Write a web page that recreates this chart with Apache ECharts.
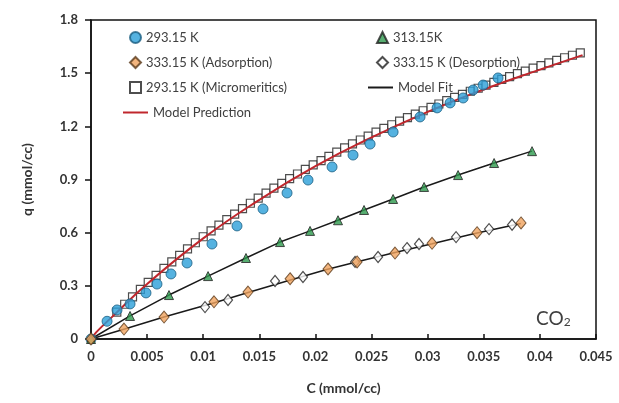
<!DOCTYPE html>
<html><head><meta charset="utf-8">
<script src="https://cdn.jsdelivr.net/npm/echarts@6/dist/echarts.min.js"></script>
<style>html,body{margin:0;padding:0;background:#fff}#c{width:619px;height:403px}</style>
</head><body><div id="c"></div>
<script>
// 293.15 K (blue circles)
const c293 = [0, 0.00143, 0.00232, 0.00348, 0.0049, 0.00588, 0.00713, 0.00856, 0.01078, 0.01301, 0.01533, 0.01747, 0.01934, 0.02148, 0.02335, 0.02487, 0.02692, 0.02932, 0.03084, 0.0320, 0.03316, 0.03405, 0.03494, 0.03627];
const q293 = [0, 0.100, 0.164, 0.198, 0.260, 0.310, 0.367, 0.429, 0.536, 0.638, 0.734, 0.824, 0.897, 0.971, 1.038, 1.100, 1.168, 1.253, 1.304, 1.332, 1.360, 1.405, 1.433, 1.473];
// 313.15K (green triangles)
const c313 = [0, 0.00348, 0.00695, 0.01043, 0.01381, 0.01684, 0.01952, 0.02201, 0.02433, 0.02692, 0.02968, 0.03271, 0.03592, 0.0393];
const q313 = [0, 0.130, 0.248, 0.355, 0.457, 0.547, 0.610, 0.670, 0.728, 0.790, 0.858, 0.925, 0.993, 1.060];
// 333.15 K adsorption (orange diamonds)
const c333a = [0, 0.00294, 0.00651, 0.01096, 0.01399, 0.01774, 0.02112, 0.02371, 0.02709, 0.03039, 0.0344, 0.03832];
const q333a = [0, 0.056, 0.124, 0.210, 0.265, 0.340, 0.395, 0.435, 0.485, 0.540, 0.600, 0.655];
// 333.15 K desorption (white diamonds)
const c333d = [0.01016, 0.01221, 0.0164, 0.01889, 0.02353, 0.02558, 0.02816, 0.02923, 0.03253, 0.03547, 0.03752];
const q333d = [0.180, 0.220, 0.327, 0.350, 0.435, 0.463, 0.513, 0.536, 0.575, 0.620, 0.645];
// 293.15 K Micromeritics (open squares)
const cMic = [0.0023,0.0030,0.0037,0.0044,0.0051,0.0058,0.0065,0.0072,0.0079,0.0086,0.0093,0.0100,0.0107,0.0114,0.0121,0.0128,0.0135,0.0142,0.0149,0.0156,0.0163,0.0170,0.0177,0.0184,0.0191,0.0198,0.0205,0.0212,0.0219,0.0226,0.0233,0.0240,0.0247,0.0254,0.0261,0.0268,0.0275,0.0282,0.0289,0.0296,0.0303,0.0310,0.0317,0.0324,0.0331,0.0338,0.0345,0.0352,0.0359,0.0366,0.0373,0.0380,0.0387,0.0394,0.0401,0.0408,0.0415,0.0422,0.0429,0.0436];
const qMic = [0.152,0.196,0.238,0.280,0.320,0.359,0.398,0.435,0.472,0.508,0.543,0.577,0.610,0.642,0.674,0.705,0.736,0.766,0.795,0.823,0.851,0.878,0.905,0.931,0.957,0.982,1.007,1.031,1.055,1.078,1.101,1.123,1.145,1.167,1.188,1.209,1.229,1.249,1.269,1.288,1.307,1.326,1.345,1.363,1.380,1.398,1.415,1.432,1.448,1.465,1.481,1.497,1.512,1.528,1.543,1.558,1.572,1.587,1.601,1.615];
// Model Prediction (red line)
const cPred = [0, 0.0005, 0.002, 0.005, 0.010, 0.015, 0.020, 0.025, 0.030, 0.035, 0.040, 0.0438];
const qPred = [0, 0.04, 0.132, 0.310, 0.568, 0.785, 0.975, 1.137, 1.282, 1.408, 1.520, 1.602];
// Model Fit (black lines)
const cFit313 = c313, qFit313 = q313;
const cFit333 = [0, 0.003, 0.0065, 0.011, 0.014, 0.0177, 0.021, 0.024, 0.027, 0.0304, 0.034, 0.0383];
const qFit333 = [0, 0.056, 0.124, 0.205, 0.262, 0.332, 0.392, 0.440, 0.487, 0.537, 0.592, 0.652];
const xTicks = ['0','0.005','0.01','0.015','0.02','0.025','0.03','0.035','0.04','0.045'];
const yTicks = ['0','0.3','0.6','0.9','1.2','1.5','1.8'];

const zip = (a, b) => a.map((v, i) => [v, b[i]]);
const FONT = 'Lato, "Open Sans", sans-serif';
const chart = echarts.init(document.getElementById('c'));
const edge = '#222';
const legText = { fontSize: 13, color: '#404040', fontFamily: FONT };
chart.setOption({
  animation: false,
  backgroundColor: '#fff',
  textStyle: { fontFamily: FONT },
  grid: { left: 91, right: 23, top: 20, bottom: 64, show: true, borderColor: '#111', borderWidth: 1.5 },
  legend: [
    { left: 124, top: 26, orient: 'vertical', itemGap: 12, itemWidth: 11, itemHeight: 11, itemTextGap: 8,
      textStyle: legText, data: ['293.15 K', '333.15 K (Adsorption)', '293.15 K (Micromeritics)'] },
    { left: 371, top: 26, orient: 'vertical', itemGap: 12, itemWidth: 11, itemHeight: 11, itemTextGap: 8,
      textStyle: legText, data: ['313.15K', '333.15 K (Desorption)'] },
    { left: 118, top: 101, itemWidth: 25, itemHeight: 2, itemTextGap: 2, icon: 'rect',
      textStyle: legText, data: ['Model Prediction'] },
    { left: 363, top: 76, itemWidth: 25, itemHeight: 2, itemTextGap: 2, icon: 'rect',
      textStyle: legText, data: ['Model Fit'] }
  ],
  xAxis: {
    type: 'value', min: 0, max: 0.045, interval: 0.005,
    name: 'C (mmol/cc)', nameLocation: 'middle', nameGap: 42,
    nameTextStyle: { fontSize: 14, fontWeight: 'bold', color: '#333', fontFamily: FONT },
    axisLine: { lineStyle: { color: '#111', width: 1.5 } },
    axisTick: { inside: true, length: 5, lineStyle: { color: '#111', width: 1.5 } },
    axisLabel: { fontSize: 13, fontWeight: 'bold', color: '#333', margin: 11,
      formatter: v => xTicks[Math.round(v / 0.005)] },
    splitLine: { show: false }
  },
  yAxis: {
    type: 'value', min: 0, max: 1.8, interval: 0.3,
    name: 'q (mmol/cc)', nameLocation: 'middle', nameGap: 57,
    nameTextStyle: { fontSize: 14, fontWeight: 'bold', color: '#333', fontFamily: FONT },
    axisLine: { lineStyle: { color: '#111', width: 1.5 } },
    axisTick: { inside: false, length: 6, lineStyle: { color: '#111', width: 1.5 } },
    axisLabel: { fontSize: 13, fontWeight: 'bold', color: '#333', margin: 13,
      formatter: v => yTicks[Math.round(v / 0.3)] },
    splitLine: { show: false }
  },
  graphic: [{
    type: 'text', left: 536, top: 309, z: 100,
    style: { text: '{a|CO}{b|2}', rich: {
      a: { fontSize: 19, fill: '#404040', fontFamily: FONT },
      b: { fontSize: 12, fill: '#404040', fontFamily: FONT, verticalAlign: 'bottom', padding: [8, 0, 0, 0] } } }
  }],
  series: [
    { name: 'Model Fit', type: 'line', data: zip(cFit313, qFit313), symbol: 'none', z: 2,
      lineStyle: { color: '#1a1a1a', width: 1.5 }, itemStyle: { color: '#1a1a1a' } },
    { name: 'Model Fit', type: 'line', data: zip(cFit333, qFit333), symbol: 'none', z: 2,
      lineStyle: { color: '#1a1a1a', width: 1.5 }, itemStyle: { color: '#1a1a1a' } },
    { name: '293.15 K (Micromeritics)', type: 'scatter', data: zip(cMic, qMic), symbol: 'rect', symbolSize: 8, z: 3,
      itemStyle: { color: '#fff', borderColor: '#222', borderWidth: 1.2 } },
    { name: 'Model Prediction', type: 'line', data: zip(cPred, qPred), symbol: 'none', smooth: true, z: 4,
      lineStyle: { color: '#c0272d', width: 2 }, itemStyle: { color: '#c0272d' } },
    { name: '293.15 K', type: 'scatter', data: zip(c293, q293), symbol: 'circle', symbolSize: 10, z: 5,
      itemStyle: { color: '#2a9fd8', borderColor: '#1c5f82', borderWidth: 1 } },
    { name: '313.15K', type: 'scatter', data: zip(c313, q313), symbol: 'triangle', symbolSize: 9, z: 5,
      itemStyle: { color: '#2e9a4e', borderColor: edge, borderWidth: 1 } },
    { name: '333.15 K (Desorption)', type: 'scatter', data: zip(c333d, q333d), symbol: 'diamond', symbolSize: [9, 11], z: 5,
      itemStyle: { color: '#fff', borderColor: edge, borderWidth: 1.2 } },
    { name: '333.15 K (Adsorption)', type: 'scatter', data: zip(c333a, q333a), symbol: 'diamond', symbolSize: [10, 12], z: 6,
      itemStyle: { color: '#f0a35e', borderColor: '#5a3a1a', borderWidth: 1 } }
  ]
});
</script></body></html>
